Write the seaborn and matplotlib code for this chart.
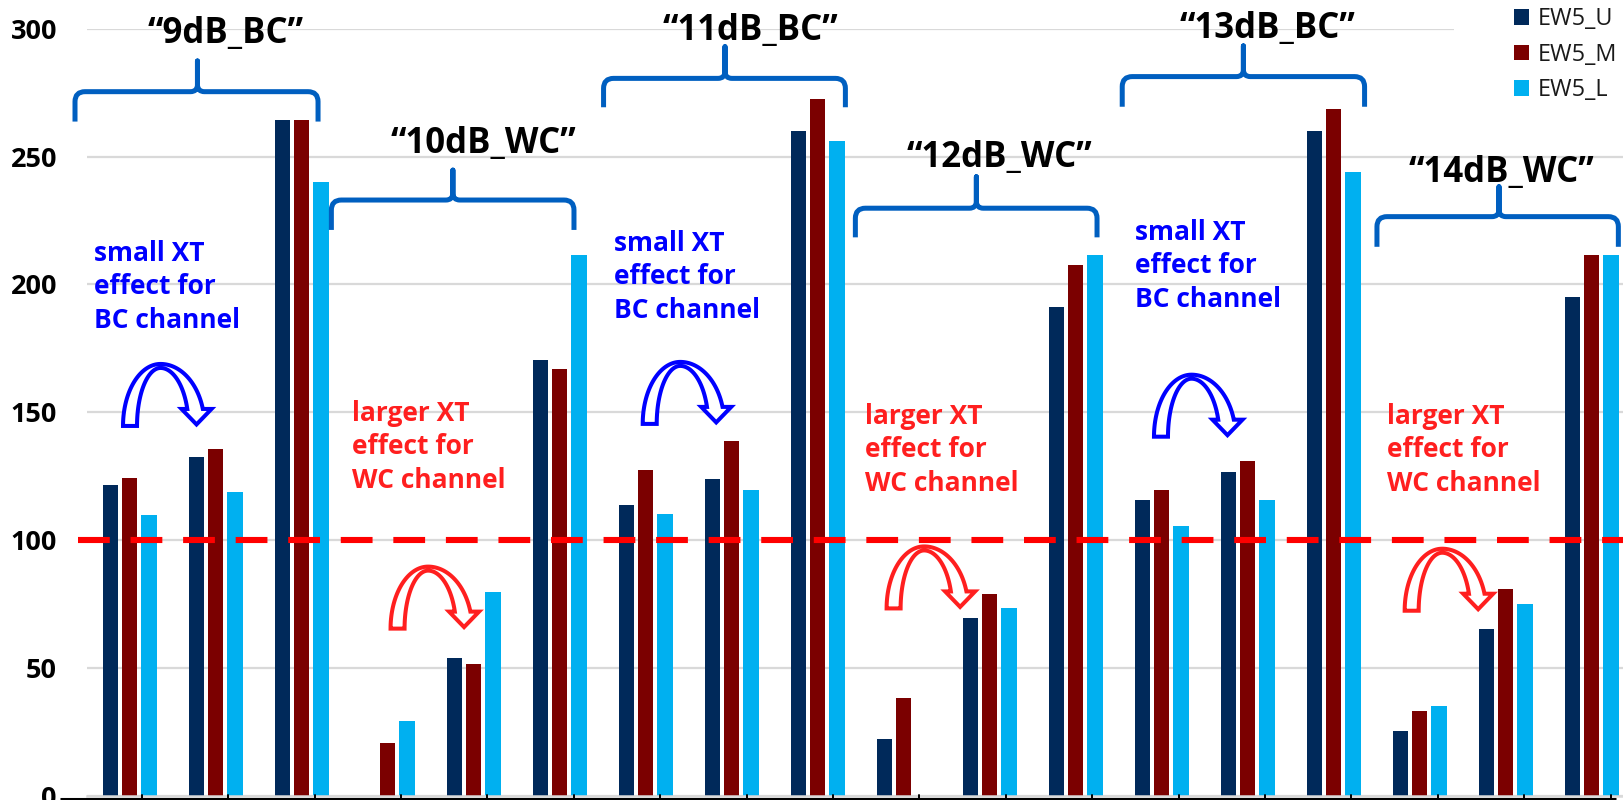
import numpy as np
import pandas as pd
import matplotlib
matplotlib.use("Agg")
import matplotlib.pyplot as plt
import matplotlib.transforms as mtransforms
from matplotlib.path import Path
from matplotlib.patches import PathPatch, Rectangle, Polygon
from matplotlib.lines import Line2D
import seaborn as sns

# ---- data -------------------------------------------------------------
conditions = ["9dB_BC", "10dB_WC", "11dB_BC", "12dB_WC", "13dB_BC", "14dB_WC"]
subgroups = ["a", "b", "c"]
series = ["EW5_U", "EW5_M", "EW5_L"]

ew5_u = [121.5, 132.3, 264.3, 0.0, 53.9, 170.6,
         113.5, 123.7, 260.2, 22.0, 69.4, 191.0,
         115.5, 126.6, 260.2, 25.4, 65.0, 195.2]
ew5_m = [124.1, 135.4, 264.3, 20.4, 51.3, 166.7,
         127.5, 138.6, 272.5, 38.0, 78.7, 207.4,
         119.6, 130.9, 268.5, 33.2, 80.9, 211.3]
ew5_l = [109.7, 118.7, 240.0, 29.3, 79.5, 211.3,
         110.3, 119.4, 256.2, 0.0, 73.5, 211.3,
         105.3, 115.6, 243.9, 35.0, 75.0, 211.3]

threshold = 100
y_ticks = [0, 50, 100, 150, 200, 250, 300]
bc_note = ["small XT", "effect for", "BC channel"]
wc_note = ["larger XT", "effect for", "WC channel"]

slots = [f"{c} {s}" for c in conditions for s in subgroups]
df = pd.DataFrame({
    "slot": np.tile(slots, len(series)),
    "series": np.repeat(series, len(slots)),
    "value": ew5_u + ew5_m + ew5_l,
})

# ---- styling ----------------------------------------------------------
sns.set_style("white")
plt.rcParams["font.family"] = ["Open Sans", "DejaVu Sans"]

palette = {"EW5_U": "#00295A", "EW5_M": "#7B0000", "EW5_L": "#00B0F0"}
BRACE = "#005FC0"
BLUE = "#0000FF"
RED = "#FF1F1F"
GRID = "#D9D9D9"

W, H, DPI = 1623, 800, 100
fig = plt.figure(figsize=(W / DPI, H / DPI), dpi=DPI)
fig.patch.set_facecolor("white")
ax = fig.add_axes([86.7 / W, 4.5 / H, 18 * 86 / W, 766.7 / H])

sns.barplot(data=df, x="slot", y="value", hue="series", order=slots,
            hue_order=series, palette=palette, width=0.673, gap=0.22,
            errorbar=None, saturation=1, linewidth=0, ax=ax, legend=True)

ax.set_xlim(-0.5, len(slots) - 0.5)
ax.set_ylim(0, 300)
ax.set_xticks([])
ax.set_xlabel("")
ax.set_ylabel("")
ax.set_yticks(y_ticks)
ax.tick_params(axis="y", length=0, pad=21.4, labelsize=19.5)
for lab in ax.get_yticklabels():
    lab.set_fontweight("bold")
    lab.set_color("black")
ax.grid(axis="y", color=GRID, lw=1.6)
ax.set_axisbelow(True)
for side in ("left", "right", "top"):
    ax.spines[side].set_visible(False)
ax.spines["bottom"].set_color(GRID)
ax.spines["bottom"].set_linewidth(1.8)

# reference level
ax.plot([-0.6, len(slots) + 0.1], [threshold, threshold], color="#FF0000",
        lw=4.4, ls=(0, (5.2, 3.4)), dash_capstyle="butt", clip_on=False,
        zorder=4)

# legend on a white panel
handles, labels = ax.get_legend_handles_labels()
ax.get_legend().remove()
fig.add_artist(Rectangle((1454 / W, 1 - 110 / H), 169 / W, 110 / H,
                         transform=fig.transFigure, facecolor="white",
                         edgecolor="none", zorder=1.5))
fig.legend(handles, labels, loc="upper left",
           bbox_to_anchor=(1507 / W, 1.0), bbox_transform=fig.transFigure,
           frameon=False, fontsize=16.8, handlelength=0.66, handleheight=0.66,
           handletextpad=0.36, labelspacing=0.5, borderpad=0.3,
           borderaxespad=0, labelcolor="#1A1A1A")

# ---- annotations ------------------------------------------------------
to_px = ax.transData.transform
ident = mtransforms.IdentityTransform()

# brace spans: left, right, tip (category units); foot, bar, tip (values)
braces = [(-0.636, 2.190, 0.788, 263.7, 275.4, 287.4),
          (2.345, 5.166, 3.758, 221.3, 233.0, 244.7),
          (5.510, 8.322, 6.922, 269.3, 280.6, 293.0),
          (8.438, 11.248, 9.845, 218.4, 229.8, 242.1),
          (11.541, 14.359, 12.950, 269.5, 281.3, 293.3),
          (14.503, 17.310, 15.922, 214.7, 226.5, 238.2)]
label_pos = [(1.113, 294.3), (4.114, 251.3), (7.222, 295.6),
             (10.108, 246.0), (13.233, 296.3), (15.951, 240.2)]
note_pos = [(-0.42, 209.3), (2.583, 146.7), (5.635, 213.2),
            (8.55, 145.4), (11.694, 217.4), (14.621, 145.4)]
arrow_pos = [(-0.101, 144.6), (3.010, 65.3), (5.942, 145.4),
             (8.778, 73.2), (11.887, 140.4), (14.802, 72.3)]


def brace(L, R, T, yb, yh, yt, r=10, r2=7):
    (L, yb), (R, _), (T, _) = to_px((L, yb)), to_px((R, yb)), to_px((T, yb))
    yh = to_px((0, yh))[1]
    yt = to_px((0, yt))[1]
    M, Ln, C = Path.MOVETO, Path.LINETO, Path.CURVE3
    verts = [(L, yb), (L, yh - r), (L, yh), (L + r, yh), (T - r2, yh),
             (T, yh), (T, yh + r2), (T, yt), (T, yh + r2), (T, yh),
             (T + r2, yh), (R - r, yh), (R, yh), (R, yh - r), (R, yb)]
    codes = [M, Ln, C, C, Ln, C, C, Ln, Ln, C, C, Ln, C, C, Ln]
    fig.add_artist(PathPatch(Path(verts, codes), transform=ident,
                             facecolor="none", edgecolor=BRACE, lw=3.6,
                             joinstyle="round", capstyle="butt", zorder=3))


def arc_arrow(x, y, color):
    """Hollow U-turn arrow; (x, y) is the foot of the left stem."""
    x0, y0 = to_px((x, y))
    cx = 39.5
    t_o = np.arcsin(17 / 62)
    t_i = np.arcsin(17 / 58)
    head = [(60.5, 17), (75.5, 1.5), (90.5, 17)]
    outer_r = [(cx + 44 * np.cos(t), 62 * np.sin(t))
               for t in np.linspace(t_o, np.pi / 2, 40)]
    outer_l = [(cx + 37.5 * np.cos(t), 62 * np.sin(t))
               for t in np.linspace(np.pi / 2, np.pi, 40)]
    inner_l = [(cx + 23.5 * np.cos(t), 58 * np.sin(t))
               for t in np.linspace(np.pi, np.pi / 2, 40)]
    inner_r = [(cx + 28 * np.cos(t), 58 * np.sin(t))
               for t in np.linspace(np.pi / 2, t_i, 40)]
    pts = np.array(head + outer_r + outer_l + inner_l + inner_r) + [x0, y0]
    fig.add_artist(Polygon(pts, closed=True, transform=ident,
                           facecolor="white", edgecolor=color, lw=2.9,
                           joinstyle="miter", zorder=3))


for b in braces:
    brace(*b)

for cond, (x, y) in zip(conditions, label_pos):
    ax.text(x, y, f"\u201c{cond}\u201d", ha="center", va="baseline",
            fontsize=25, fontweight="bold", color="black", clip_on=False,
            zorder=5)

line_step = 13.1
for i, (x, y) in enumerate(note_pos):
    lines, color = (bc_note, BLUE) if i % 2 == 0 else (wc_note, RED)
    for k, line in enumerate(lines):
        ax.text(x, y - k * line_step, line, ha="left", va="baseline",
                fontsize=19, fontweight="bold", color=color,
                clip_on=False, zorder=5)

for i, (x, y) in enumerate(arrow_pos):
    arc_arrow(x, y, BLUE if i % 2 == 0 else RED)

# category rule along the bottom edge
fig.add_artist(Line2D([60 / W, 1616 / W], [1.5 / H, 1.5 / H],
                      transform=fig.transFigure, color="black", lw=2.2,
                      solid_capstyle="butt", zorder=2))
for k in range(len(slots)):
    xt = to_px((0.14 + k * 1.0047, 0))[0]
    if xt < W:
        fig.add_artist(Line2D([xt, xt], [0, 5], transform=ident,
                              color="black", lw=1.4, zorder=2))

fig.savefig("out.png", dpi=DPI, facecolor="white")
